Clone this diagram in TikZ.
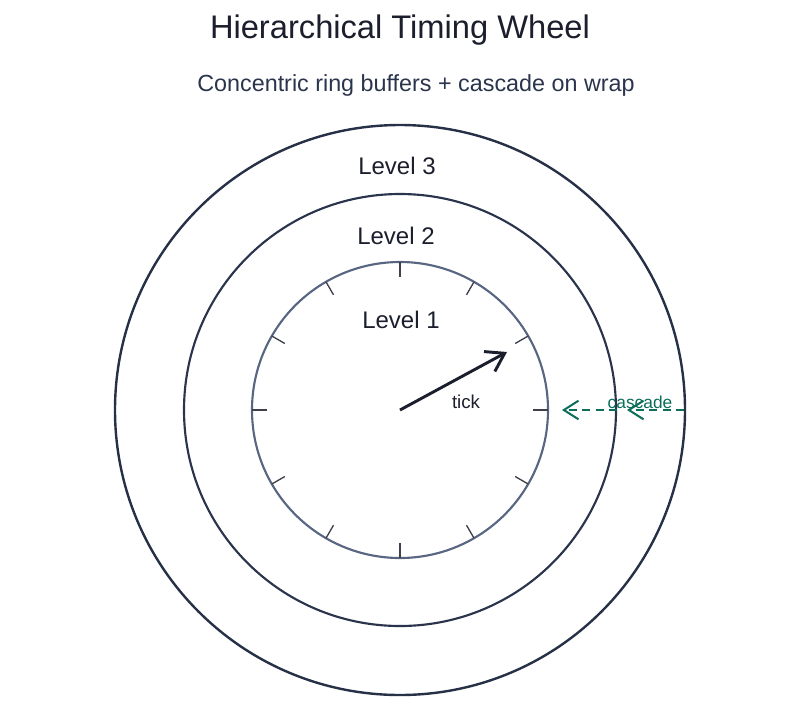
\documentclass[tikz,border=0pt]{standalone}
\usepackage{fontspec}
\setmainfont{Liberation Sans}
\usetikzlibrary{arrows.meta}
\definecolor{inkdark}{RGB}{27,30,44}
\definecolor{ringouter}{RGB}{38,48,70}
\definecolor{ringmid}{RGB}{42,52,76}
\definecolor{ringinner}{RGB}{88,102,130}
\definecolor{cascgreen}{RGB}{12,110,90}
\tikzset{every picture/.style={line width=0.75pt}}
\tikzset{
  ringlabel/.style={inner sep=0.75pt, color=inkdark, font=\fontsize{18}{21}\selectfont},
  cascarrow/.style={draw=cascgreen, line width=1.5pt, dash pattern=on 6pt off 4pt, -{Straight Barb[length=11pt,width=14pt,line width=1.5pt]}}
}
\begin{document}
\begin{tikzpicture}[x=0.75pt,y=0.75pt,yscale=-1,xscale=1]
\useasboundingbox (0,0) rectangle (800,704);
% centre of the wheel
\coordinate (hub) at (400,410);
% Shape: outer ring (level 3)
\draw [color=ringouter, line width=1.8pt] (hub) circle [radius=285];
% Shape: middle ring (level 2)
\draw [color=ringmid, line width=1.6pt] (hub) circle [radius=216];
% Shape: inner ring (level 1)
\draw [color=ringinner, line width=1.6pt] (hub) circle [radius=148];
% slot marks on level 1
\foreach \ang in {0,30,...,330}
  \draw [color=inkdark!85, line width=1pt] (hub) ++(\ang:148) -- ++(\ang:-15);
% Text Node
\draw (400,30) node [inner sep=0.75pt, color=inkdark, font=\fontsize{24.5}{28}\selectfont] (title) {Hierarchical Timing Wheel};
% Text Node
\draw (416,85) node [inner sep=0.75pt, color=ringmid, font=\fontsize{17.5}{21}\selectfont] (subtitle) {Concentric ring buffers + cascade on wrap};
% Text Node
\draw (397,166) node [ringlabel] (lvlthree) {Level 3};
% Text Node
\draw (396,236) node [ringlabel] (lvltwo) {Level 2};
% Text Node
\draw (401,320) node [ringlabel] (lvlone) {Level 1};
% tick hand
\coordinate (handtip) at (507,352);
\draw [color=inkdark, line width=2.2pt, -{Straight Barb[length=13pt,width=17pt,line width=2.2pt]}] (hub) -- (handtip);
% Text Node
\draw (466,402) node [inner sep=0.75pt, color=inkdark, font=\fontsize{14}{16}\selectfont] (ticklbl) {tick};
% cascade arrows
\coordinate (outerrim) at (684,410);
\coordinate (midrim) at (627,410);
\coordinate (midout) at (617,410);
\coordinate (innerrim) at (562,410);
\draw [cascarrow] (outerrim) -- (midrim);
\draw [cascarrow] (midout) -- (innerrim);
% Text Node
\draw (640,402) node [inner sep=0.75pt, color=cascgreen, font=\fontsize{13}{15}\selectfont] (casclbl) {cascade};
\end{tikzpicture}
\end{document}
